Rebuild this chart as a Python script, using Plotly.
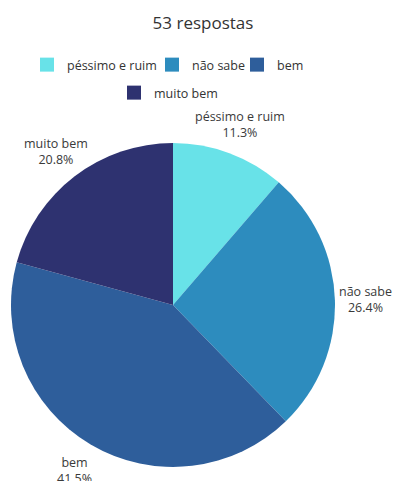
import math
import plotly.graph_objects as go

# Survey answers (53 responses)
categories = ["péssimo e ruim", "não sabe", "bem", "muito bem"]
counts = [6, 14, 22, 11]
colors = ["#68E2E8", "#2D8CBE", "#2E5E9B", "#2E3270"]

W, H = 398, 481

# Pie placement in pixels (centre and radius)
CX, CY, R = 173, 305, 162
LABEL_DIST = 1.19  # label centres sit just outside each slice's mid-angle

fig = go.Figure()

fig.add_trace(
    go.Pie(
        labels=categories,
        values=counts,
        sort=False,
        direction="clockwise",
        rotation=0,
        marker=dict(colors=colors, line=dict(width=0)),
        textinfo="none",
        showlegend=False,
        automargin=False,
        domain=dict(x=[(CX - R) / W, (CX + R) / W], y=[1 - (CY + R) / H, 1 - (CY - R) / H]),
    )
)

# Slice labels: name and share, placed outside each slice
total = sum(counts)
cum = 0
for name, n in zip(categories, counts):
    mid = (cum + n / 2) / total * 2 * math.pi
    cum += n
    px = CX + LABEL_DIST * R * math.sin(mid)
    py = CY - LABEL_DIST * R * math.cos(mid)
    fig.add_annotation(
        x=px / W,
        y=1 - py / H,
        xref="paper",
        yref="paper",
        xanchor="center",
        yanchor="middle",
        showarrow=False,
        text=f"{name}<br>{100 * n / total:.1f}%",
        font=dict(size=12.5, color="#3a3a3a", family="Open Sans"),
    )

# Legend: one small legend per entry so the rows flow like a wrapped line
legend_ids = ["legend", "legend2", "legend3", "legend4"]
legend_left_px = [27, 152, 237, 114]
legend_top_px = [50, 50, 50, 78]

for name, col, lid in zip(categories, colors, legend_ids):
    fig.add_trace(
        go.Scatter(
            x=[None],
            y=[None],
            mode="markers",
            name=name,
            marker=dict(symbol="square", size=14, color=col),
            legend=lid,
            hoverinfo="skip",
        )
    )

legend_font = dict(size=12.5, color="#333333", family="Open Sans")
legends = {
    lid: dict(
        orientation="h",
        x=lx / W,
        xanchor="left",
        y=1 - ly / H,
        yanchor="top",
        font=legend_font,
        bgcolor="rgba(0,0,0,0)",
        itemclick=False,
        itemwidth=30,
    )
    for lid, lx, ly in zip(legend_ids, legend_left_px, legend_top_px)
}

fig.update_layout(
    width=W,
    height=H,
    margin=dict(l=0, r=0, t=0, b=0, autoexpand=False),
    paper_bgcolor="white",
    plot_bgcolor="white",
    font=dict(family="Open Sans", color="#333333"),
    xaxis=dict(visible=False),
    yaxis=dict(visible=False),
    title=dict(
        text="53 respostas",
        x=203 / W,
        xanchor="center",
        xref="container",
        y=1 - 23 / H,
        yanchor="middle",
        yref="container",
        font=dict(size=17, color="#333333", family="Open Sans"),
    ),
    **legends,
)

fig.write_html("out.html")
